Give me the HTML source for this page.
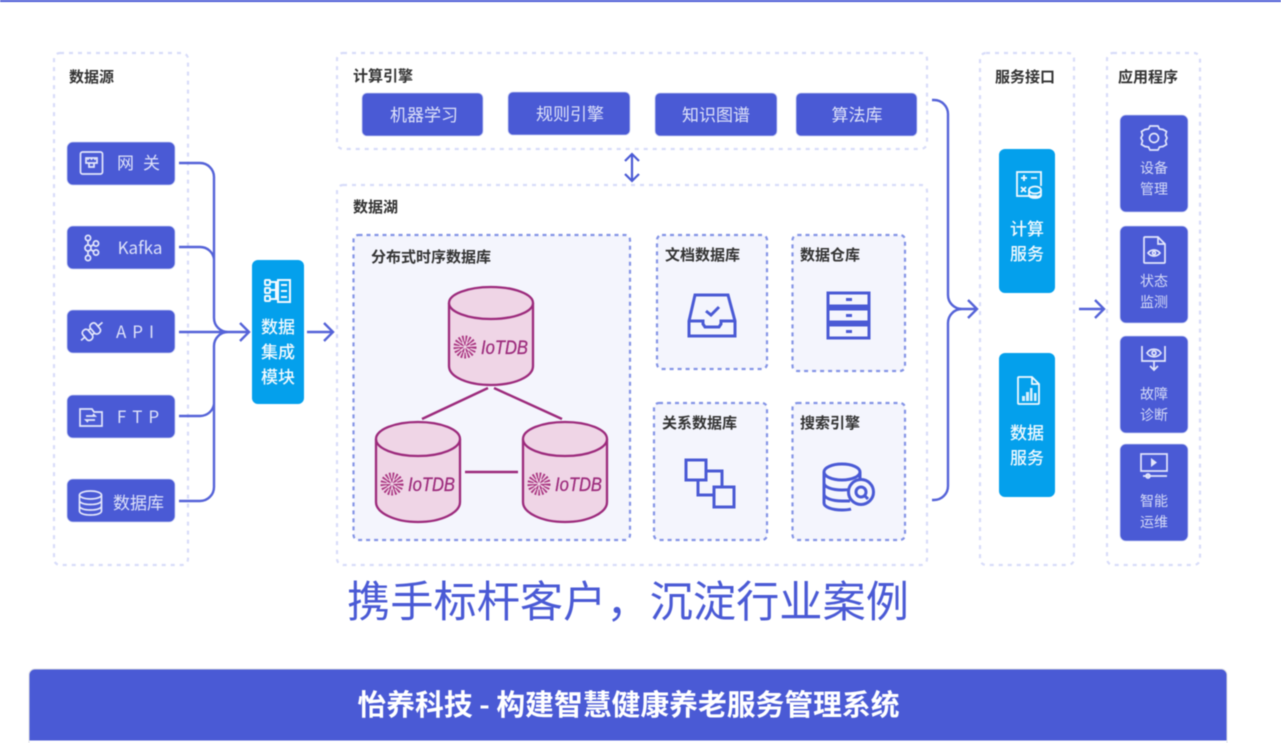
<!DOCTYPE html>
<html lang="zh"><head><meta charset="utf-8"><title>架构图</title>
<style>
html,body{margin:0;padding:0;background:#fff;width:1281px;height:743px;overflow:hidden}
svg{display:block;position:absolute;left:0;top:0;filter:blur(.45px)}
text{font-family:"Noto Sans CJK SC","Liberation Sans",sans-serif}
.h{font-size:15px;font-weight:700;fill:#333}
.p{fill:#fff;stroke:#d8dcf9;stroke-width:2.200;stroke-dasharray:4 5}
.d{fill:#f4f5fd;stroke:#8494e6;stroke-width:2.200;stroke-dasharray:4 4}
.b{fill:#4a5ad5;stroke:#c9cff3;stroke-width:.8}
.c{fill:#04a0ec}
.t{font-size:17px;fill:#dde1f9;text-anchor:middle}
.a{font-size:14px;fill:#d5daf7;text-anchor:middle}
.w{font-size:17px;font-weight:500;fill:#f2fafe;text-anchor:middle}
.l{fill:none;stroke:#5563d8;stroke-width:2.400}
.i{fill:none;stroke:#e3e6fb;stroke-width:1.700}
.k{fill:none;stroke:#4a5ad5;stroke-width:3}
.y{fill:#efd5e6;stroke:#9c2a7c;stroke-width:2.300}
.o{font-size:19px;font-style:italic;fill:#9c2a7c;stroke:#9c2a7c;stroke-width:.3;font-family:"Liberation Sans",sans-serif}
.s{fill:none;stroke:#a8327f;stroke-width:6;stroke-dasharray:1.5 1.6}
.s2{fill:none;stroke:#a8327f;stroke-width:4;stroke-dasharray:1.5 1.6}
</style></head><body>
<svg width="1281" height="743" viewBox="0 0 1281 743" xmlns="http://www.w3.org/2000/svg">
<rect x="0" y="0" width="1281" height="2" fill="#4a5ad5"/>

<!-- panels -->
<rect class="p" x="54" y="53" width="134" height="512" rx="6"/>
<rect class="p" x="337" y="53" width="590" height="96" rx="6"/>
<rect class="p" x="337" y="185" width="590" height="380" rx="6"/>
<rect class="p" x="980" y="53" width="94" height="512" rx="6"/>
<rect class="p" x="1107" y="53" width="93" height="512" rx="6"/>
<text class="h" x="69" y="82">数据源</text>
<text class="h" x="353" y="81">计算引擎</text>
<text class="h" x="353" y="212">数据湖</text>
<text class="h" x="995" y="82">服务接口</text>
<text class="h" x="1118" y="82">应用程序</text>

<!-- sources -->
<rect class="b" x="67" y="142" width="108" height="43" rx="6"/>
<rect class="b" x="67" y="226" width="108" height="43" rx="6"/>
<rect class="b" x="67" y="310" width="108" height="43" rx="6"/>
<rect class="b" x="67" y="395" width="108" height="43" rx="6"/>
<rect class="b" x="67" y="479" width="108" height="43" rx="6"/>
<text class="t" x="117" y="169" style="text-anchor:start" letter-spacing="9">网关</text>
<text class="t" x="140" y="254">Kafka</text>
<text class="t" x="138" y="338" letter-spacing="6">API</text>
<text class="t" x="141" y="423" letter-spacing="6">FTP</text>
<text class="t" x="138.500" y="509">数据库</text>
<!-- source icons -->
<rect class="i" x="80.500" y="152" width="22" height="22" rx="2"/>
<path class="i" d="M86 158h11v5h-11zM86 163h11M89 163v4h5v-4M88 158v2M91.500 158v2M95 158v2"/>
<g class="i"><circle cx="88" cy="238" r="2.600"/><circle cx="88" cy="248" r="3"/><circle cx="88" cy="258" r="2.600"/><circle cx="96" cy="243.500" r="2.600"/><circle cx="96" cy="252.500" r="2.600"/><path d="M88 240.600v4.400M88 251v4.400M90.600 246.500l3-2M90.600 249.500l3 2"/></g>
<g class="i" transform="rotate(-40 91 332)"><rect x="83" y="326" width="7" height="12" rx="3"/><rect x="93" y="326" width="7" height="12" rx="3"/><path d="M78 332h5M100 332h6M90 329h3M90 335h3"/></g>
<path class="i" d="M80 409h12l2 3h8v14h-22zM86 416h9l-2-2M95 420h-9l2 2"/>
<g class="i"><ellipse cx="90.500" cy="495" rx="11" ry="4"/><path d="M79.500 495v16c0 2.500 5 4 11 4s11-1.500 11-4v-16M79.500 500.500c0 2.500 5 4 11 4s11-1.500 11-4M79.500 506c0 2.500 5 4 11 4s11-1.500 11-4"/></g>

<!-- left connectors -->
<path class="l" d="M179 163h21a14 14 0 0 1 14 14v141a14 14 0 0 0 14 14M179 247h21a14 14 0 0 1 14 12M179 332h69M179 416h21a14 14 0 0 0 14-12M179 501h21a14 14 0 0 0 14-14V346a14 14 0 0 1 14-14"/>
<path class="l" d="M240 323l9 9-9 9M307 332h25M324 323l9 9-9 9"/>

<!-- integration -->
<rect class="c" x="252" y="260" width="52" height="144" rx="6"/>
<g fill="none" stroke="#f0f9fe" stroke-width="2"><rect x="265" y="280" width="5" height="5" rx="1"/><rect x="265" y="288" width="5" height="5" rx="1"/><rect x="265" y="296" width="5" height="5" rx="1"/><path d="M270 282h6v17h-6M270 290h6M278 280h12v22h-12zM281 285h6M281 291h6M281 297h6"/></g>
<text class="w" x="278" y="333">数据</text>
<text class="w" x="278" y="358">集成</text>
<text class="w" x="278" y="383">模块</text>

<!-- compute -->
<rect class="b" x="362" y="93" width="121" height="43" rx="5"/>
<rect class="b" x="508" y="92" width="122" height="43" rx="5"/>
<rect class="b" x="655" y="93" width="122" height="43" rx="5"/>
<rect class="b" x="796" y="93" width="121" height="43" rx="5"/>
<text class="t" x="424" y="121">机器学习</text>
<text class="t" x="570" y="120">规则引擎</text>
<text class="t" x="716" y="121">知识图谱</text>
<text class="t" x="857" y="121">算法库</text>
<path d="M632 154v27M625 161l7-7 7 7M625 174l7 7 7-7" fill="none" stroke="#4a5ad5" stroke-width="2.200"/>

<!-- lake inner -->
<rect class="d" x="353.500" y="235" width="276.500" height="305" rx="5"/>
<rect class="d" x="657" y="235" width="110" height="134" rx="5"/>
<rect class="d" x="792.500" y="235" width="112.500" height="136" rx="5"/>
<rect class="d" x="654" y="403" width="113" height="137" rx="5"/>
<rect class="d" x="792.500" y="403" width="112.500" height="137" rx="5"/>
<text class="h" x="371" y="262">分布式时序数据库</text>
<text class="h" x="665" y="260">文档数据库</text>
<text class="h" x="800" y="260">数据仓库</text>
<text class="h" x="662" y="428">关系数据库</text>
<text class="h" x="800" y="428">搜索引擎</text>

<!-- cylinders -->
<path d="M488 388L422 419M494 388L562 419M465 472H518" fill="none" stroke="#9c2a7c" stroke-width="2.400"/>
<path class="y" d="M449 303v63c0 11 19 19 42 19s42-8 42-19v-63"/><ellipse class="y" cx="491" cy="303" rx="42" ry="16"/>
<path class="y" d="M376 439v63c0 11 19 20 42 20s42-9 42-20v-63"/><ellipse class="y" cx="418" cy="439" rx="42" ry="17"/>
<path class="y" d="M523 439v63c0 11 19 20 42 20s42-9 42-20v-63"/><ellipse class="y" cx="565" cy="439" rx="42" ry="17"/>
<circle class="s" cx="465" cy="347" r="8.500"/><circle class="s2" cx="465" cy="347" r="3.500"/>
<circle class="s" cx="392" cy="484" r="8.500"/><circle class="s2" cx="392" cy="484" r="3.500"/>
<circle class="s" cx="539" cy="484" r="8.500"/><circle class="s2" cx="539" cy="484" r="3.500"/>
<text class="o" x="481" y="354" textLength="47" lengthAdjust="spacingAndGlyphs">IoTDB</text>
<text class="o" x="408" y="491" textLength="47" lengthAdjust="spacingAndGlyphs">IoTDB</text>
<text class="o" x="555" y="491" textLength="47" lengthAdjust="spacingAndGlyphs">IoTDB</text>

<!-- lake icons -->
<path class="k" d="M695 295h33l7 26v15h-46v-15zM689 321h14v3l2 3h14l2-3v-3h14M706 311l5 4 8-8"/>
<g class="k"><rect x="828" y="293" width="41" height="13"/><rect x="828" y="309" width="41" height="13"/><rect x="828" y="325" width="41" height="13"/></g>
<path d="M846 298h6v3h-6zM846 314h6v3h-6zM846 330h6v3h-6z" fill="#4a5ad5"/>
<g class="k"><rect x="686" y="460" width="20" height="20" fill="#f4f5fd"/><path d="M706 471h16v16M698 480v15h16"/><rect x="714" y="487" width="20" height="20"/></g>
<g class="k"><ellipse cx="842" cy="472" rx="18" ry="8"/><path d="M824 472v31c0 4 8 7 18 7 3 0 6 0 9-1M860 472v14M824 483c0 4 8 7 18 7 6 0 12-1 15-3M824 494c0 4 8 7 18 7h8"/><circle cx="861" cy="492" r="12.500" fill="#f4f5fd"/><circle cx="861" cy="492" r="5"/><path d="M865 496l3 3"/></g>

<!-- right connectors -->
<path class="l" d="M932 100h2a14 14 0 0 1 14 14v181a14 14 0 0 0 14 14h14M932 500h2a14 14 0 0 0 14-14V323a14 14 0 0 1 14-14M968 300l9 9-9 9"/>
<path class="l" d="M1079 309h24M1095 300l9 9-9 9" stroke="#4a5ad5"/>

<!-- services -->
<rect class="c" x="999" y="149" width="56" height="144" rx="6"/>
<rect class="c" x="999" y="353" width="56" height="144" rx="6"/>
<g fill="none" stroke="#f0f9fe" stroke-width="1.800"><path d="M1037 196h-20v-24h24v14"/><path d="M1021 178h6M1024 175v6M1031 178h6M1021 187l5 5M1026 187l-5 5"/><ellipse cx="1035" cy="190" rx="6" ry="3.500"/><path d="M1029 190v5c0 2 3 3 6 3s6-1 6-3v-5M1029 194c0 2 3 3 6 3s6-1 6-3"/></g>
<text class="w" x="1027" y="235">计算</text>
<text class="w" x="1027" y="260">服务</text>
<g fill="none" stroke="#f0f9fe" stroke-width="1.800"><path d="M1019 377h13l7 7v19a1 1 0 0 1-1 1h-19a1 1 0 0 1-1-1v-25a1 1 0 0 1 1-1zM1032 377v7h7"/></g>
<path d="M1022 396h3v5h-3zM1026 392h3v9h-3zM1030 388h2.500v13h-2.500zM1034 393h2.500v8h-2.500z" fill="#d9f0fc"/>
<text class="w" x="1027" y="439">数据</text>
<text class="w" x="1027" y="464">服务</text>

<!-- apps -->
<rect class="b" x="1120" y="115" width="68" height="97" rx="6"/>
<rect class="b" x="1120" y="226" width="68" height="97" rx="6"/>
<rect class="b" x="1120" y="336" width="68" height="97" rx="6"/>
<rect class="b" x="1120" y="444" width="68" height="97" rx="6"/>
<text class="a" x="1154" y="173">设备</text><text class="a" x="1154" y="194">管理</text>
<text class="a" x="1154" y="286">状态</text><text class="a" x="1154" y="307">监测</text>
<text class="a" x="1154" y="399">故障</text><text class="a" x="1154" y="420">诊断</text>
<text class="a" x="1154" y="506">智能</text><text class="a" x="1154" y="527">运维</text>
<g class="i"><circle cx="1154" cy="138" r="4.500"/><path d="M1150 126h8l1.500 3 3.500.5 3.500 2-1 3.500 1.500 3-1.500 3 1 3.500-3.500 2-3.500.5-1.500 3h-8l-1.500-3-3.500-.5-3.500-2 1-3.500-1.500-3 1.500-3-1-3.500 3.500-2 3.500-.5z"/></g>
<g class="i"><path d="M1145 237h13l7 7v18a1 1 0 0 1-1 1h-19a1 1 0 0 1-1-1v-24a1 1 0 0 1 1-1zM1158 237v7h7"/><path d="M1148 253c3-4 9-4 12 0-3 4-9 4-12 0z"/><circle cx="1154" cy="253" r="1.500"/></g>
<g class="i"><path d="M1142 346v15h23v-15M1154 361v9M1150 366l4 4 4-4"/><path d="M1147 353c3-5 11-5 14 0-3 5-11 5-14 0z"/><circle cx="1154" cy="353" r="2"/></g>
<g class="i"><rect x="1141" y="454" width="26" height="17"/><path d="M1143 476h24"/><circle cx="1148" cy="476" r="2"/></g>
<path d="M1151 458l6 4.500-6 4.500z" fill="#e3e6fb"/>

<!-- title -->
<text x="628" y="617" font-size="43" fill="#4a5ad5" text-anchor="middle" textLength="562" lengthAdjust="spacingAndGlyphs">携手标杆客户，沉淀行业案例</text>

<!-- header bar -->
<path d="M29 741V675a6 6 0 0 1 6-6H1221a6 6 0 0 1 6 6V741z" fill="#4a5ad5" stroke="#dcdde3" stroke-width="1"/>
<rect x="29" y="740.500" width="1198" height="3" fill="#fff"/>
<path d="M29 741V743M1227 741V743" stroke="#dcdde3"/>
<text x="628.500" y="715" font-size="28.800" font-weight="700" fill="#fff" text-anchor="middle">怡养科技 - 构建智慧健康养老服务管理系统</text>
</svg>
</body></html>
